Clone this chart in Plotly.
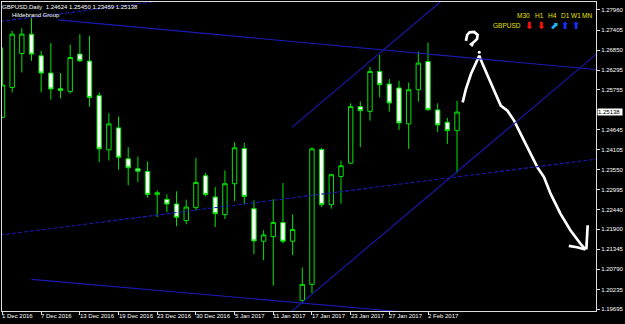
import plotly.graph_objects as go

# ---------------- data (GBPUSD daily) ----------------
opens = [1.24993, 1.25819, 1.26756, 1.27291, 1.26693, 1.26216, 1.25784, 1.25709,
         1.26740, 1.26547, 1.25591, 1.24095, 1.24701, 1.23847, 1.23571, 1.23497,
         1.22855, 1.22726, 1.22596, 1.22139, 1.22497, 1.23378, 1.22789, 1.22304,
         1.23158, 1.24131, 1.22469, 1.21568, 1.21698, 1.22084, 1.21568, 1.19935,
         1.20376, 1.24103, 1.22580, 1.23359, 1.23726, 1.25288, 1.25158, 1.26260,
         1.25913, 1.25803, 1.24811, 1.25756, 1.26536, 1.25197, 1.24855, 1.24624]
highs = [1.26921, 1.27381, 1.27456, 1.27740, 1.26830, 1.27043, 1.26216, 1.26996,
         1.27291, 1.27244, 1.25682, 1.25103, 1.25012, 1.24166, 1.23910, 1.23772,
         1.22973, 1.22863, 1.22946, 1.22717, 1.23874, 1.23461, 1.23064, 1.23524,
         1.24304, 1.24288, 1.22698, 1.21871, 1.22726, 1.23175, 1.22312, 1.20844,
         1.24158, 1.24150, 1.23434, 1.23800, 1.25379, 1.25434, 1.26390, 1.26720,
         1.26051, 1.26004, 1.25957, 1.26811, 1.27059, 1.25379, 1.24976, 1.25450]
lows = [1.24971, 1.25682, 1.26233, 1.26555, 1.25682, 1.25481, 1.25516, 1.25654,
        1.26527, 1.25288, 1.23753, 1.23800, 1.23544, 1.23111, 1.23202, 1.22772,
        1.22238, 1.22376, 1.21982, 1.22037, 1.22422, 1.22808, 1.21962, 1.22183,
        1.22679, 1.22588, 1.21210, 1.21045, 1.20337, 1.21505, 1.21183, 1.19852,
        1.20136, 1.22513, 1.22469, 1.22607, 1.23709, 1.24166, 1.24902, 1.25544,
        1.25150, 1.24646, 1.24122, 1.25425, 1.25177, 1.24580, 1.24260, 1.23459]
closes = [1.25886, 1.27291, 1.27291, 1.26740, 1.26216, 1.25775, 1.25737, 1.26646,
          1.26555, 1.25544, 1.24122, 1.24811, 1.23891, 1.23599, 1.23505, 1.22863,
          1.22910, 1.22596, 1.22230, 1.22513, 1.23194, 1.22863, 1.22331, 1.23158,
          1.24150, 1.22808, 1.21577, 1.21742, 1.22084, 1.21568, 1.21891, 1.20376,
          1.24122, 1.22580, 1.23406, 1.23654, 1.25288, 1.25177, 1.26260, 1.25894,
          1.25390, 1.24839, 1.25756, 1.26492, 1.25205, 1.24784, 1.24626, 1.25138]

date_labels = ["1 Dec 2016", "7 Dec 2016", "13 Dec 2016", "19 Dec 2016",
               "23 Dec 2016", "30 Dec 2016", "5 Jan 2017", "11 Jan 2017",
               "17 Jan 2017", "23 Jan 2017", "27 Jan 2017", "2 Feb 2017"]
date_step = 4  # one label every 4 bars

price_ticks = [1.27960, 1.27405, 1.26850, 1.26295, 1.25755, 1.24645, 1.24105,
               1.23550, 1.22995, 1.22440, 1.21900, 1.21345, 1.20790, 1.20235, 1.19695]
price_labels = ["%.5f" % v for v in price_ticks]
last_price = 1.25138

header = "GBPUSD,Daily  1.24624 1.25450 1.23459 1.25138"
subheader = "Hildebrand Group"

tf_labels = ["M30", "H1", "H4", "D1", "W1", "MN"]
tf_arrows = ["\u2b07", "\u2b07", "\u2b08", "\u2b06", "\u2b06", ""]
tf_arrow_colors = ["#FF1010", "#FF1010", "#20B8FF", "#1830FF", "#1830FF", "#000000"]

# hand-drawn objects (bar index, price)
solid_lines = [
    ((5.71, 1.27687), (62.50, 1.26285)),
    ((3.00, 1.20513), (42.95, 1.19579)),
    ((29.92, 1.24717), (46.60, 1.28483)),
    ((29.58, 1.19557), (62.50, 1.26987)),
]
dotted_lines = [
    ((-0.26, 1.21739), (62.50, 1.23874)),
    ((-0.26, 1.27643), (20.40, 1.28346)),
]
scribble_x = [47.58, 47.92, 48.44, 48.92, 49.30, 49.64, 50.15, 50.67, 51.52, 52.21,
              52.90, 53.58, 54.61, 55.30, 55.99, 56.67, 57.69, 58.72, 59.75, 60.27]
scribble_y = [1.25406, 1.25775, 1.26189, 1.26500, 1.26693, 1.26464, 1.26142, 1.25819,
              1.25315, 1.25177, 1.24902, 1.24536, 1.23985, 1.23615, 1.23340, 1.22883,
              1.22331, 1.21871, 1.21505, 1.21340]
head1_x = [58.56, 59.41, 60.27]
head1_y = [1.21439, 1.21403, 1.21340]
head2_x = [60.51, 60.47, 60.37]
head2_y = [1.22009, 1.21679, 1.21340]
qmark_x = [47.92, 48.05, 48.30, 48.77, 49.13, 49.07, 48.77, 48.46, 48.66]
qmark_y = [1.27106, 1.27271, 1.27340, 1.27354, 1.27271, 1.27161, 1.27078, 1.27010, 1.26968]
qdot = (49.30, 1.26789)

# ---------------- figure ----------------
W, H = 625, 324
ML, MR, MT, MB = 2, 26, 1, 13
PW, PH = W - ML - MR, H - MT - MB
FONT = "Liberation Sans"
GREEN = "#00E400"
BLUE = "#1A1AB4"

idx = list(range(len(opens)))
fig = go.Figure()
fig.add_trace(go.Candlestick(
    x=idx, open=opens, high=highs, low=lows, close=closes,
    increasing=dict(fillcolor="#000000", line=dict(color=GREEN, width=1)),
    decreasing=dict(fillcolor="#FFFFFF", line=dict(color=GREEN, width=1)),
    whiskerwidth=0, hoverinfo="skip", showlegend=False))

shapes = []
for (a, b) in solid_lines:
    shapes.append(dict(type="line", xref="x", yref="y", x0=a[0], y0=a[1], x1=b[0], y1=b[1],
                       line=dict(color=BLUE, width=1.1)))
for (a, b) in dotted_lines:
    shapes.append(dict(type="line", xref="x", yref="y", x0=a[0], y0=a[1], x1=b[0], y1=b[1],
                       line=dict(color=BLUE, width=1.1, dash="4px,2px")))

for xs, ys in [(scribble_x, scribble_y), (head1_x, head1_y), (head2_x, head2_y), (qmark_x, qmark_y)]:
    fig.add_trace(go.Scatter(x=xs, y=ys, mode="lines", line=dict(color="white", width=2.7),
                             hoverinfo="skip", showlegend=False))
fig.add_trace(go.Scatter(x=[qdot[0]], y=[qdot[1]], mode="markers",
                         marker=dict(color="white", size=3), hoverinfo="skip", showlegend=False))


def px(xp):
    return (xp - ML) / PW


def py(yp):
    return (MT + PH - yp) / PH


ann = []
# date labels, left-aligned at their ticks
for k, lab in enumerate(date_labels):
    ann.append(dict(x=k * date_step, xref="x", y=0, yref="paper", yanchor="top", xanchor="left",
                    yshift=-1, xshift=-1, text=lab, showarrow=False, borderpad=0,
                    font=dict(family=FONT, size=6, color="#FFFFFF")))
# current price box
ann.append(dict(x=1, xref="paper", y=last_price, yref="y", xanchor="left", yanchor="middle",
                text="%.5f" % last_price, showarrow=False, bgcolor="#FFFFFF", borderpad=0,
                xshift=1, font=dict(family=FONT, size=6, color="#000000"), width=24, align="left"))
ann.append(dict(x=px(1), y=py(6), xref="paper", yref="paper", xanchor="left", yanchor="middle",
                text=header, showarrow=False, borderpad=0,
                font=dict(family=FONT, size=6, color="#FFFFFF")))
ann.append(dict(x=px(11), y=py(14.5), xref="paper", yref="paper", xanchor="left", yanchor="middle",
                text=subheader, showarrow=False, borderpad=0,
                font=dict(family=FONT, size=6, color="#FFFFFF")))
ann.append(dict(x=px(510), y=py(25), xref="paper", yref="paper", xanchor="center", yanchor="middle",
                text="GBPUSD", showarrow=False, borderpad=0,
                font=dict(family=FONT, size=6.5, color="#E0E000")))
label_x = [525.8, 542.7, 555.3, 568.0, 578.7, 590.3]
arrow_x = [531.7, 543.3, 556.7, 567.7, 579.3, 590.3]
for k, lab in enumerate(tf_labels):
    ann.append(dict(x=px(label_x[k]), y=py(14.5), xref="paper", yref="paper", xanchor="center",
                    yanchor="middle", text=lab, showarrow=False, borderpad=0,
                    font=dict(family=FONT, size=6.5, color="#E0E000")))
    if tf_arrows[k]:
        ann.append(dict(x=px(arrow_x[k]), y=py(25), xref="paper", yref="paper", xanchor="center",
                        yanchor="middle", text="<b>" + tf_arrows[k] + "</b>", showarrow=False,
                        borderpad=0,
                        font=dict(family="DejaVu Sans", size=10, color=tf_arrow_colors[k])))

fig.update_layout(
    width=W, height=H, margin=dict(l=ML, r=MR, t=MT, b=MB, pad=0),
    paper_bgcolor="#000000", plot_bgcolor="#000000",
    shapes=shapes, annotations=ann, boxgap=0.35, showlegend=False,
    xaxis=dict(range=[-0.05, 61.37], rangeslider=dict(visible=False), showgrid=False,
               zeroline=False, tickmode="array",
               tickvals=[k * date_step for k in range(len(date_labels))],
               showticklabels=False, ticks="outside", ticklen=3, tickcolor="#DDDDDD",
               showline=True, mirror=True, linecolor="#DDDDDD", linewidth=1),
    yaxis=dict(range=[1.19640, 1.28180], side="right", showgrid=False, zeroline=False,
               tickmode="array", tickvals=price_ticks, ticktext=price_labels,
               ticks="outside", ticklen=3, tickcolor="#DDDDDD",
               tickfont=dict(family=FONT, size=6, color="#FFFFFF"),
               showline=True, mirror=True, linecolor="#DDDDDD", linewidth=1),
)

fig.write_html("out.html")
